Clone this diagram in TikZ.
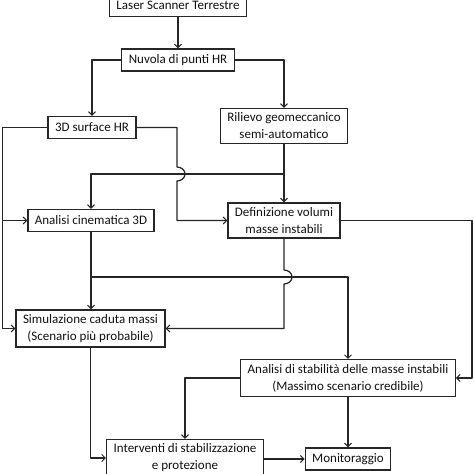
\documentclass[tikz,border=0pt]{standalone}
\usepackage{fontspec}
\setmainfont{Carlito}
\usepackage{xcolor}
\usepackage{tikz}
\usetikzlibrary{calc,arrows.meta}
\definecolor{bg}{HTML}{FFFFFF}
\definecolor{ink}{HTML}{262626}
\definecolor{txt}{HTML}{111111}
\tikzset{
  box/.style={draw=ink, line width=1.25pt, fill=bg, align=center, inner xsep=7pt,
    inner ysep=4.5pt, minimum height=22pt, font=\fontsize{13}{17}\selectfont, text=txt},
  conn/.style={draw=ink, line width=1.25pt, line join=round},
  arr/.style={conn, -{Straight Barb[length=3.5pt,width=7pt,line width=1pt]}}
}
\begin{document}
\begin{tikzpicture}[x=1pt,y=-1pt]
  \useasboundingbox[fill=bg] (0,0) rectangle (474,474);
  % boxes
  \node[box] (laser) at (178,5.5) {Laser Scanner Terrestre};
  \node[box] (cloud) at (178,60) {Nuvola di punti HR};
  \node[box] (surf) at (92,127.5) {3D surface HR};
  \node[box] (geo) at (284,126) {Rilievo geomeccanico\\semi-automatico};
  \node[box] (kin) at (91,220.5) {Analisi cinematica 3D};
  \node[box] (vol) at (284,220.5) {Definizione volumi\\masse instabili};
  \node[box] (sim) at (90.5,328.5) {Simulazione caduta massi\\(Scenario più probabile)};
  \node[box] (stab) at (348,378) {Analisi di stabilità delle masse instabili\\(Massimo scenario credibile)};
  \node[box] (act) at (185,458) {Interventi di stabilizzazione\\e protezione};
  \node[box] (mon) at (348,459) {Monitoraggio};
  % branch points
  \coordinate (lft) at (2.5,127.5);
  \coordinate (rgt) at (472,220.5);
  \coordinate (jA) at (284,174);
  \coordinate (jB) at (91,277);
  % connectors
  \draw[arr] (laser) -- (cloud);
  \draw[arr] (cloud.west) -| (surf.north);
  \draw[arr] (cloud.east) -| (geo.north);
  \draw[arr] (surf.west) -- (lft) |- (sim.west);
  \draw[arr] (lft |- kin.west) -- (kin.west);
  \draw[arr] (surf.east) -- (177,127.5) -- (177,167)
    arc[start angle=-90, end angle=90, x radius=8, y radius=7] |- (vol.west);
  \draw[arr] (geo) -- (vol);
  \draw[arr] (jA) -| (kin.north);
  \draw[arr] (vol.east) -- (rgt) |- (stab.east);
  \draw[arr] (kin) -- (sim.north -| kin.south);
  \draw[arr] (jB) -| (stab.north);
  \draw[arr] (vol.south) -- (284,270)
    arc[start angle=-90, end angle=90, x radius=8, y radius=7] |- (sim.east);
  \draw[arr] (stab.west) -| (act.north);
  \draw[arr] (sim.south) |- (act.west);
  \draw[arr] (act.east |- mon.west) -- (mon.west);
  \draw[arr] (stab.south) -- (mon.north);
\end{tikzpicture}
\end{document}
